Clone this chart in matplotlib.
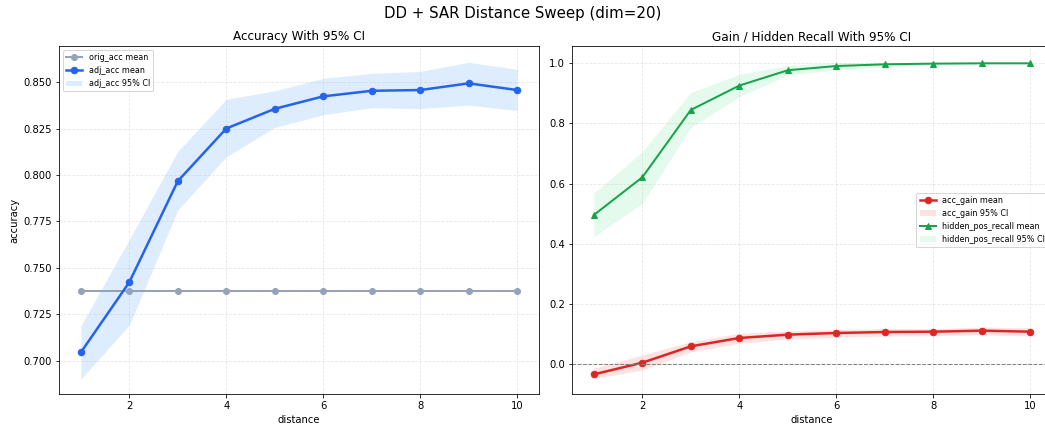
import matplotlib
matplotlib.use("Agg")
import matplotlib.pyplot as plt

distance = [1, 2, 3, 4, 5, 6, 7, 8, 9, 10]

orig_acc = [0.7375] * 10
adj_acc = [0.7045, 0.7423, 0.7967, 0.8250, 0.8356, 0.8423, 0.8453, 0.8457, 0.8493, 0.8457]
adj_lo = [0.6901, 0.7192, 0.7811, 0.8098, 0.8256, 0.8324, 0.8362, 0.8357, 0.8376, 0.8346]
adj_hi = [0.7188, 0.7653, 0.8128, 0.8407, 0.8453, 0.8520, 0.8547, 0.8557, 0.8606, 0.8568]

acc_gain = [-0.0344, 0.0044, 0.0588, 0.0865, 0.0976, 0.1031, 0.1064, 0.1075, 0.1109, 0.1075]
gain_lo = [-0.0477, -0.0200, 0.0410, 0.0690, 0.0830, 0.0890, 0.0930, 0.0940, 0.0976, 0.0930]
gain_hi = [-0.0144, 0.0300, 0.0740, 0.1020, 0.1100, 0.1150, 0.1175, 0.1175, 0.1230, 0.1200]

recall = [0.4956, 0.6210, 0.8450, 0.9260, 0.9770, 0.9910, 0.9967, 0.9990, 1.0000, 1.0000]
recall_lo = [0.4235, 0.5340, 0.7870, 0.8890, 0.9610, 0.9780, 0.9890, 0.9970, 0.9990, 1.0000]
recall_hi = [0.5680, 0.7060, 0.9035, 0.9630, 0.9940, 1.0020, 1.0020, 1.0010, 1.0005, 1.0000]

fig = plt.figure(figsize=(1045 / 72, 426 / 72), dpi=72)
ax1 = fig.add_axes([0.0565, 0.0751, 0.4593, 0.8169])
ax2 = fig.add_axes([0.5474, 0.0751, 0.4593, 0.8169])

# left: accuracy
ax1.plot(distance, orig_acc, marker="o", color="#94a3b8", lw=2, ms=6, label="orig_acc mean")
ax1.plot(distance, adj_acc, marker="o", color="#2563eb", lw=2.5, ms=6.5, label="adj_acc mean")
ax1.fill_between(distance, adj_lo, adj_hi, color="#93c5fd", alpha=0.3, lw=0, label="adj_acc 95% CI")
ax1.set_xlim(0.55, 10.45)
ax1.set_ylim(0.6821, 0.8694)
ax1.set_title("Accuracy With 95% CI", fontsize=12)
ax1.set_xlabel("distance", fontsize=10)
ax1.set_ylabel("accuracy", fontsize=10)
ax1.grid(True, ls="--", alpha=0.3)
ax1.legend(loc="upper left", fontsize=8)

# right: gain / recall
ax2.plot(distance, acc_gain, marker="o", color="#dc2626", lw=2.5, ms=6.5, label="acc_gain mean")
ax2.fill_between(distance, gain_lo, gain_hi, color="#f87171", alpha=0.2, lw=0, label="acc_gain 95% CI")
ax2.plot(distance, recall, marker="^", color="#16a34a", lw=2, ms=6.5, label="hidden_pos_recall mean")
ax2.fill_between(distance, recall_lo, recall_hi, color="#4ade80", alpha=0.15, lw=0, label="hidden_pos_recall 95% CI")
ax2.axhline(0, color="gray", ls="--", lw=1)
ax2.set_xlim(0.55, 10.45)
ax2.set_ylim(-0.0998, 1.0576)
ax2.set_title("Gain / Hidden Recall With 95% CI", fontsize=12)
ax2.set_xlabel("distance", fontsize=10)
ax2.grid(True, ls="--", alpha=0.3)
ax2.legend(loc="center right", fontsize=8)

fig.suptitle("DD + SAR Distance Sweep (dim=20)", fontsize=15, y=0.985)
fig.savefig("out.png", dpi=72)
